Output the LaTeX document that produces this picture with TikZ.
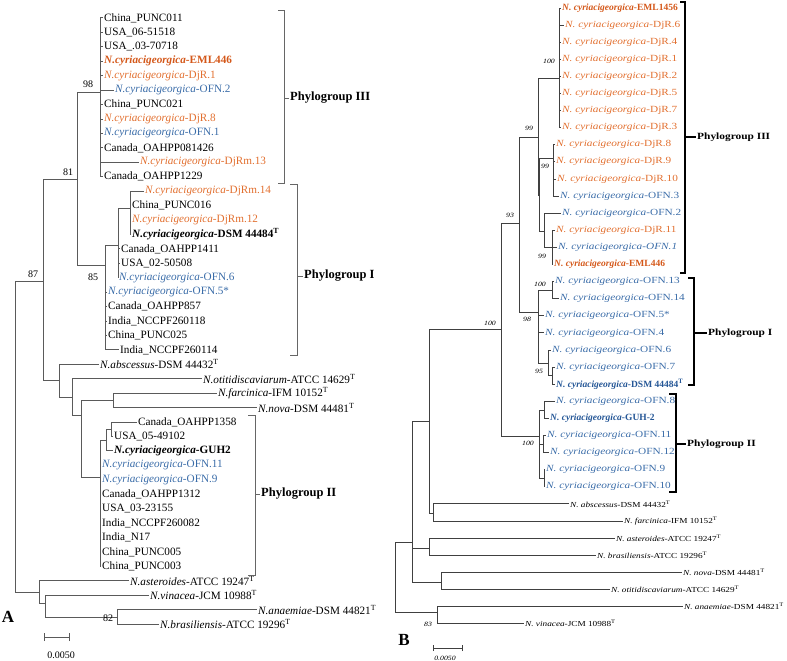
\documentclass[tikz,border=0pt]{standalone}
\usepackage{fontspec}
\setmainfont{Liberation Serif}
\newfontfamily\wideserif{Liberation Serif}[FakeStretch=1.2]
\definecolor{DjROrange}{RGB}{226,112,48}
\definecolor{EMLOrange}{RGB}{212,88,26}
\definecolor{OFNBlue}{RGB}{58,108,168}
\definecolor{DSMBlue}{RGB}{36,86,150}
\definecolor{BranchGray}{RGB}{90,90,90}
\newcommand{\cyrA}{\textit{N.cyriacigeorgica}}
\newcommand{\cyrB}{\textit{N. cyriacigeorgica}}
\newcommand{\typeT}{\textsuperscript{T}}
\tikzset{
  every node/.style={
    inner sep=1pt
  },
  leafA/.style={
    anchor=west,
    font=\fontsize{11.2}{13}\selectfont
  },
  leafB/.style={
    anchor=west,
    font=\wideserif\fontsize{9.4}{11}\selectfont
  },
  boldB/.style={
    anchor=west,
    font=\fontsize{9.5}{11}\selectfont\bfseries
  },
  otherB/.style={
    anchor=west,
    font=\wideserif\fontsize{7.7}{9}\selectfont
  },
  djr/.style={text=DjROrange},
  eml/.style={text=EMLOrange},
  ofn/.style={text=OFNBlue},
  dsm/.style={text=DSMBlue},
  branchA/.style={draw=BranchGray, line width=1pt},
  branchB/.style={draw=black!75, line width=0.9pt},
  bootA/.style={font=\fontsize{10}{12}\selectfont},
  bootB/.style={font=\wideserif\itshape\fontsize{6.5}{8}\selectfont},
  groupA/.style={anchor=west, font=\bfseries\fontsize{12.5}{14}\selectfont},
  groupB/.style={anchor=west, font=\wideserif\bfseries\fontsize{9.5}{11}\selectfont},
  bracketA/.style={draw=black!60, line width=0.9pt},
  bracketB/.style={draw=black, line width=1.6pt},
  panel/.style={font=\bfseries\fontsize{17}{19}\selectfont}
}
\begin{document}
\begin{tikzpicture}[x=1pt,y=-1pt]
\useasboundingbox (0,0) rectangle (787,661);

\coordinate (rootA) at (15,436);
\coordinate (n87) at (43,281);
\coordinate (n81) at (77,179);
\coordinate (n98) at (100,92);
\coordinate (n85) at (105,265);
\coordinate (np2) at (118,245);
\coordinate (np1) at (130,208);
\coordinate (nc1) at (59,380);
\coordinate (nc2) at (72,397);
\coordinate (nc3) at (81,415);
\coordinate (nc4) at (113,400);
\coordinate (ng3) at (100,477);
\coordinate (ng2) at (106,440);
\coordinate (ng1) at (111,429);
\coordinate (no1) at (39,592);
\coordinate (no2) at (45,603);
\coordinate (no3) at (117,617);

\node[leafA] (a0) at (103,18) {China\_PUNC011};
\node[leafA] (a1) at (103,32.4) {USA\_06-51518};
\node[leafA] (a2) at (103,46.9) {USA\_.03-70718};
\node[leafA,eml] (a3) at (103,61.3) {\bfseries\cyrA-EML446};
\node[leafA,djr] (a4) at (103,75.7) {\cyrA-DjR.1};
\node[leafA,ofn] (a5) at (114,90.2) {\cyrA-OFN.2};
\node[leafA] (a6) at (103,104.6) {China\_PUNC021};
\node[leafA,djr] (a7) at (103,119) {\cyrA-DjR.8};
\node[leafA,ofn] (a8) at (103,133.4) {\cyrA-OFN.1};
\node[leafA] (a9) at (103,147.9) {Canada\_OAHPP081426};
\node[leafA,djr] (a10) at (139,162.3) {\cyrA-DjRm.13};
\node[leafA] (a11) at (103,176.7) {Canada\_OAHPP1229};
\node[leafA,djr] (a12) at (144,191.2) {\cyrA-DjRm.14};
\node[leafA] (a13) at (131,205.6) {China\_PUNC016};
\node[leafA,djr] (a14) at (131,220) {\cyrA-DjRm.12};
\node[leafA] (a15) at (131,234.5) {\bfseries\cyrA-DSM 44484\typeT};
\node[leafA] (a16) at (120,248.9) {Canada\_OAHPP1411};
\node[leafA] (a17) at (120,263.3) {USA\_02-50508};
\node[leafA,ofn] (a18) at (118,277.7) {\cyrA-OFN.6};
\node[leafA,ofn] (a19) at (107,292.2) {\cyrA-OFN.5*};
\node[leafA] (a20) at (107,306.6) {Canada\_OAHPP857};
\node[leafA] (a21) at (107,321) {India\_NCCPF260118};
\node[leafA] (a22) at (107,335.5) {China\_PUNC025};
\node[leafA] (a23) at (119,349.9) {India\_NCCPF260114};
\node[leafA] (a24) at (99,364.3) {\textit{N.abscessus}-DSM 44432\typeT};
\node[leafA] (a25) at (202,378.8) {\textit{N.otitidiscaviarum}-ATCC 14629\typeT};
\node[leafA] (a26) at (217,393.2) {\textit{N.farcinica}-IFM 10152\typeT};
\node[leafA] (a27) at (257,407.6) {\textit{N.nova}-DSM 44481\typeT};
\node[leafA] (a28) at (137,422) {Canada\_OAHPP1358};
\node[leafA] (a29) at (113,436.5) {USA\_05-49102};
\node[leafA] (a30) at (113,450.9) {\bfseries\cyrA-GUH2};
\node[leafA,ofn] (a31) at (101,465.3) {\cyrA-OFN.11};
\node[leafA,ofn] (a32) at (101,479.8) {\cyrA-OFN.9};
\node[leafA] (a33) at (101,494.2) {Canada\_OAHPP1312};
\node[leafA] (a34) at (101,508.6) {USA\_03-23155};
\node[leafA] (a35) at (101,523.1) {India\_NCCPF260082};
\node[leafA] (a36) at (101,537.5) {India\_N17};
\node[leafA] (a37) at (101,551.9) {China\_PUNC005};
\node[leafA] (a38) at (101,566.3) {China\_PUNC003};
\node[leafA] (a39) at (129,580.8) {\textit{N.asteroides}-ATCC 19247\typeT};
\node[leafA] (a40) at (149,595.2) {\textit{N.vinacea}-JCM 10988\typeT};
\node[leafA] (a41) at (257,609.6) {\textit{N.anaemiae}-DSM 44821\typeT};
\node[leafA] (a42) at (159,624.1) {\textit{N.brasiliensis}-ATCC 19296\typeT};

\foreach \leaf in {a0,a1,a2,a3,a4,a5,a6,a7,a8,a9,a10,a11}
  \draw[branchA] (n98) |- (\leaf.west);
\foreach \leaf in {a12,a13,a14,a15}
  \draw[branchA] (np1) |- (\leaf.west);
\foreach \leaf in {np1,a16.west,a17.west,a18.west}
  \draw[branchA] (np2) |- (\leaf);
\foreach \leaf in {np2,a19.west,a20.west,a21.west,a22.west,a23.west}
  \draw[branchA] (n85) |- (\leaf);
\draw[branchA] (n81) |- (n98);
\draw[branchA] (n81) |- (n85);
\draw[branchA] (n87) |- (n81);
\draw[branchA] (n87) |- (nc1);
\draw[branchA] (nc1) |- (a24.west);
\draw[branchA] (nc1) |- (nc2);
\draw[branchA] (nc2) |- (a25.west);
\draw[branchA] (nc2) |- (nc3);
\draw[branchA] (nc3) |- (nc4);
\draw[branchA] (nc3) |- (ng3);
\draw[branchA] (nc4) |- (a26.west);
\draw[branchA] (nc4) |- (a27.west);
\draw[branchA] (ng1) |- (a28.west);
\draw[branchA] (ng1) |- (a29.west);
\draw[branchA] (ng2) |- (ng1);
\draw[branchA] (ng2) |- (a30.west);
\foreach \leaf in {ng2,a31.west,a32.west,a33.west,a34.west,a35.west,a36.west,a37.west,a38.west}
  \draw[branchA] (ng3) |- (\leaf);
\draw[branchA] (no3) |- (a41.west);
\draw[branchA] (no3) |- (a42.west);
\draw[branchA] (no2) |- (a40.west);
\draw[branchA] (no2) |- (no3);
\draw[branchA] (no1) |- (a39.west);
\draw[branchA] (no1) |- (no2);
\draw[branchA] (rootA) |- (n87);
\draw[branchA] (rootA) |- (no1);

\node[bootA] (s98) at (88,84) {98};
\node[bootA] (s81) at (68,172) {81};
\node[bootA] (s87) at (33,274) {87};
\node[bootA] (s85) at (93,277) {85};
\node[bootA] (s82) at (108,618) {82};

\node[groupA] (gIIIa) at (289,98) {Phylogroup III};
\node[groupA] (gIa) at (303,276) {Phylogroup I};
\node[groupA] (gIIa) at (260,494) {Phylogroup II};
\draw[bracketA] (278,10) -- (284,10) -- (284,183) -- (278,183);
\draw[bracketA] (284,98) -- (gIIIa.west);
\draw[bracketA] (290,184) -- (297,184) -- (297,355) -- (290,355);
\draw[bracketA] (297,276) -- (gIa.west);
\draw[bracketA] (248,415) -- (255,415) -- (255,575) -- (248,575);
\draw[bracketA] (255,494) -- (gIIa.west);

\node[panel] (labA) at (8,617) {A};
\coordinate (barA1) at (44,637);
\coordinate (barA2) at (69,637);
\draw[branchA] (barA1) -- (barA2);
\draw[branchA] ([yshift=-4pt]barA1) -- ([yshift=4pt]barA1);
\draw[branchA] ([yshift=-4pt]barA2) -- ([yshift=4pt]barA2);
\node[bootA] (scaleA) at (61,655) {0.0050};

\coordinate (rootB) at (395,578);
\coordinate (m412) at (412,542);
\coordinate (m429) at (429,421);
\coordinate (m100b) at (501,329);
\coordinate (m93) at (519,223);
\coordinate (m99a) at (538,137);
\coordinate (m100a) at (559,78);
\coordinate (mx) at (539,195);
\coordinate (m99b) at (553,158);
\coordinate (m99c) at (544,231);
\coordinate (m99d) at (552,247);
\coordinate (m98) at (538,312);
\coordinate (m100c) at (552,290);
\coordinate (m95) at (548,363);
\coordinate (m95b) at (552,375);
\coordinate (m100e) at (539,436);
\coordinate (mg1) at (544,410);
\coordinate (mg2) at (543,444);
\coordinate (mg3) at (544,478);
\coordinate (mabs) at (433,513);
\coordinate (mast) at (429,548);
\coordinate (mnov) at (441,582);
\coordinate (m437) at (437,612);

\node[boldB,eml] (b0) at (561,8) {\cyrB-EML1456};
\node[leafB,djr] (b1) at (564,25.1) {\cyrB-DjR.6};
\node[leafB,djr] (b2) at (561,42.2) {\cyrB-DjR.4};
\node[leafB,djr] (b3) at (561,59.3) {\cyrB-DjR.1};
\node[leafB,djr] (b4) at (561,76.4) {\cyrB-DjR.2};
\node[leafB,djr] (b5) at (561,93.5) {\cyrB-DjR.5};
\node[leafB,djr] (b6) at (561,110.6) {\cyrB-DjR.7};
\node[leafB,djr] (b7) at (561,127.7) {\cyrB-DjR.3};
\node[leafB,djr] (b8) at (555,144.8) {\cyrB-DjR.8};
\node[leafB,djr] (b9) at (555,161.9) {\cyrB-DjR.9};
\node[leafB,djr] (b10) at (556,179) {\cyrB-DjR.10};
\node[leafB,ofn] (b11) at (559,196.1) {\cyrB-OFN.3};
\node[leafB,ofn] (b12) at (561,213.2) {\cyrB-OFN.2};
\node[leafB,djr] (b13) at (555,230.3) {\cyrB-DjR.11};
\node[leafB,ofn] (b14) at (557,247.4) {\textit{N. cyriacigeorgica-OFN.1}};
\node[boldB,eml] (b15) at (553,264.5) {\cyrB-EML446};
\node[leafB,ofn] (b16) at (554,281.6) {\cyrB-OFN.13};
\node[leafB,ofn] (b17) at (559,298.7) {\cyrB-OFN.14};
\node[leafB,ofn] (b18) at (544,315.8) {\cyrB-OFN.5*};
\node[leafB,ofn] (b19) at (544,332.9) {\cyrB-OFN.4};
\node[leafB,ofn] (b20) at (551,350) {\cyrB-OFN.6};
\node[leafB,ofn] (b21) at (555,367.1) {\cyrB-OFN.7};
\node[boldB,dsm] (b22) at (555,384.2) {\cyrB-DSM 44484\typeT};
\node[leafB,ofn] (b23) at (555,401.3) {\cyrB-OFN.8};
\node[boldB,dsm] (b24) at (549,418.4) {\cyrB-GUH-2};
\node[leafB,ofn] (b25) at (546,435.5) {\cyrB-OFN.11};
\node[leafB,ofn] (b26) at (549,452.6) {\cyrB-OFN.12};
\node[leafB,ofn] (b27) at (545,469.7) {\cyrB-OFN.9};
\node[leafB,ofn] (b28) at (545,486.8) {\cyrB-OFN.10};
\node[otherB] (b29) at (569,503.9) {\textit{N. abscessus}-DSM 44432\typeT};
\node[otherB] (b30) at (623,521) {\textit{N. farcinica}-IFM 10152\typeT};
\node[otherB] (b31) at (615,538.1) {\textit{N. asteroides}-ATCC 19247\typeT};
\node[otherB] (b32) at (596,555.2) {\textit{N. brasiliensis}-ATCC 19296\typeT};
\node[otherB] (b33) at (682,572.3) {\textit{N. nova}-DSM 44481\typeT};
\node[otherB] (b34) at (610,589.4) {\textit{N. otitidiscaviarum}-ATCC 14629\typeT};
\node[otherB] (b35) at (683,606.5) {\textit{N. anaemiae}-DSM 44821\typeT};
\node[otherB] (b36) at (524,623.6) {\textit{N. vinacea}-JCM 10988\typeT};

\foreach \leaf in {b0,b1,b2,b3,b4,b5,b6,b7}
  \draw[branchB] (m100a) |- (\leaf.west);
\foreach \leaf in {b8,b9,b10,b11}
  \draw[branchB] (m99b) |- (\leaf.west);
\foreach \leaf in {b13,b14,b15}
  \draw[branchB] (m99d) |- (\leaf.west);
\draw[branchB] (m99c) |- (b12.west);
\draw[branchB] (m99c) |- (m99d);
\draw[branchB] (mx) |- (m99b);
\draw[branchB] (mx) |- (m99c);
\draw[branchB] (m99a) |- (m100a);
\draw[branchB] (m99a) |- (mx);
\draw[branchB] (m100c) |- (b16.west);
\draw[branchB] (m100c) |- (b17.west);
\draw[branchB] (m95b) |- (b21.west);
\draw[branchB] (m95b) |- (b22.west);
\draw[branchB] (m95) |- (b20.west);
\draw[branchB] (m95) |- (m95b);
\foreach \leaf in {m100c,b18.west,b19.west,m95}
  \draw[branchB] (m98) |- (\leaf);
\draw[branchB] (m93) |- (m99a);
\draw[branchB] (m93) |- (m98);
\draw[branchB] (mg1) |- (b23.west);
\draw[branchB] (mg1) |- (b24.west);
\draw[branchB] (mg2) |- (b25.west);
\draw[branchB] (mg2) |- (b26.west);
\draw[branchB] (mg3) |- (b27.west);
\draw[branchB] (mg3) |- (b28.west);
\foreach \leaf in {mg1,mg2,mg3}
  \draw[branchB] (m100e) |- (\leaf);
\draw[branchB] (m100b) |- (m93);
\draw[branchB] (m100b) |- (m100e);
\draw[branchB] (mabs) |- (b29.west);
\draw[branchB] (mabs) |- (b30.west);
\draw[branchB] (m429) |- (m100b);
\draw[branchB] (m429) |- (mabs);
\draw[branchB] (mast) |- (b31.west);
\draw[branchB] (mast) |- (b32.west);
\draw[branchB] (mnov) |- (b33.west);
\draw[branchB] (mnov) |- (b34.west);
\foreach \leaf in {m429,mast,mnov}
  \draw[branchB] (m412) |- (\leaf);
\draw[branchB] (m437) |- (b35.west);
\draw[branchB] (m437) |- (b36.west);
\draw[branchB] (rootB) |- (m412);
\draw[branchB] (rootB) |- (m437);

\node[bootB] (t100a) at (549,61) {100};
\node[bootB] (t99a) at (529,128) {99};
\node[bootB] (t99b) at (545,166) {99};
\node[bootB] (t93) at (510,215) {93};
\node[bootB] (t99d) at (542,256) {99};
\node[bootB] (t100c) at (540,284) {100};
\node[bootB] (t98) at (527,319) {98};
\node[bootB] (t100b) at (490,323) {100};
\node[bootB] (t95) at (539,371) {95};
\node[bootB] (t100e) at (528,443) {100};
\node[bootB] (t83) at (428,624) {83};

\node[groupB] (gIIIb) at (696,137) {Phylogroup III};
\node[groupB] (gIb) at (707,333) {Phylogroup I};
\node[groupB] (gIIb) at (686,444) {Phylogroup II};
\draw[bracketB] (680,2) -- (685,2) -- (685,273) -- (680,273);
\draw[bracketB] (685,137) -- (gIIIb.west);
\draw[bracketB] (688,278) -- (694,278) -- (694,385) -- (688,385);
\draw[bracketB] (694,333) -- (gIb.west);
\draw[bracketB] (669,394) -- (676,394) -- (676,492) -- (669,492);
\draw[bracketB] (676,444) -- (gIIb.west);

\node[panel] (labB) at (404,640) {B};
\coordinate (barB1) at (433,648);
\coordinate (barB2) at (462,648);
\draw[branchB] (barB1) -- (barB2);
\draw[branchB] ([yshift=-3pt]barB1) -- ([yshift=3pt]barB1);
\draw[branchB] ([yshift=-3pt]barB2) -- ([yshift=3pt]barB2);
\node[bootB] (scaleB) at (445,658) {0.0050};
\end{tikzpicture}
\end{document}
